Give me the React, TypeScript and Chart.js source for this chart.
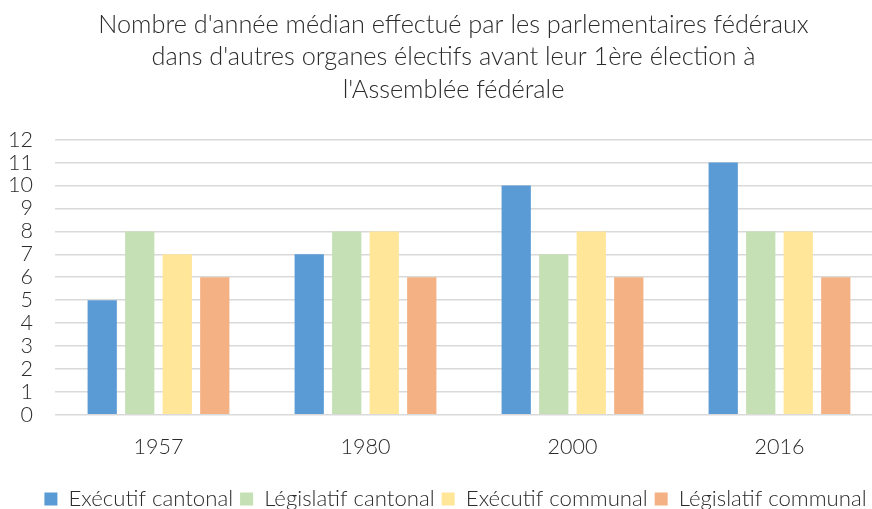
import React, { useEffect, useRef } from "react";
import { Chart, registerables } from "chart.js";

Chart.register(...registerables);

const categories = ["1957", "1980", "2000", "2016"];
const executifCantonal = [5, 7, 10, 11];
const legislatifCantonal = [8, 8, 7, 8];
const executifCommunal = [7, 8, 8, 8];
const legislatifCommunal = [6, 6, 6, 6];
const seriesNames = ["Exécutif cantonal", "Législatif cantonal", "Exécutif communal", "Législatif communal"];
const seriesColors = ["#5B9BD5", "#C5E0B4", "#FFE699", "#F4B183"];
const titleLines = [
  "Nombre d'année médian effectué par les parlementaires fédéraux",
  "dans d'autres organes électifs avant leur 1ère élection à",
  "l'Assemblée fédérale",
];
const yMin = 0;
const yMax = 12;
const yStep = 1;

const FONT = "Lato, 'Open Sans', sans-serif";
const TEXT = "#2B2B2B";
const GRID = "#D9D9D9";

const shiftBoxes = {
  id: "shiftBoxes",
  afterLayout(chart: any) {
    if (chart.titleBlock) chart.titleBlock.left += 24;
    if (chart.legend) chart.legend.left += 28;
  },
};

export default function App() {
  const ref = useRef<HTMLCanvasElement | null>(null);

  useEffect(() => {
    const canvas = ref.current;
    if (!canvas) return;
    const values = [executifCantonal, legislatifCantonal, executifCommunal, legislatifCommunal];
    const chart = new Chart(canvas, {
      type: "bar",
      data: {
        labels: categories,
        datasets: values.map((v, i) => ({
          label: seriesNames[i],
          data: v,
          backgroundColor: seriesColors[i],
          borderWidth: 0,
          categoryPercentage: 0.725,
          barPercentage: 0.78,
        })),
      },
      plugins: [shiftBoxes],
      options: {
        responsive: false,
        animation: false,
        devicePixelRatio: 1,
        layout: { padding: { left: 0, right: 23, top: 8, bottom: 0 } },
        plugins: {
          title: {
            display: true,
            text: titleLines,
            color: TEXT,
            font: { family: FONT, size: 25.3, weight: 300, lineHeight: 1.3 },
            padding: { top: 0, bottom: 33 },
          },
          legend: {
            position: "bottom",
            labels: {
              color: TEXT,
              font: { family: FONT, size: 22.2, weight: 300 },
              boxWidth: 13,
              boxHeight: 13,
              padding: 7,
            },
          },
          tooltip: { enabled: false },
        },
        scales: {
          x: {
            grid: { display: false, drawTicks: false },
            border: { display: false },
            ticks: { color: TEXT, font: { family: FONT, size: 21.5, weight: 300 }, padding: 19 },
            afterFit: (s: any) => {
              s.height = 66;
            },
          },
          y: {
            min: yMin,
            max: yMax,
            ticks: {
              stepSize: yStep,
              autoSkip: false,
              color: TEXT,
              font: { family: FONT, size: 21.5, weight: 300 },
              padding: 22,
            },
            grid: { color: GRID, lineWidth: 1.5, drawTicks: false },
            border: { display: false },
            afterFit: (s: any) => {
              s.width = 55;
            },
          },
        },
      },
    });
    return () => chart.destroy();
  }, []);

  return (
    <div style={{ position: "absolute", left: 0, top: 0, width: 872, height: 509, overflow: "hidden", background: "#fff" }}>
      <canvas ref={ref} width={906} height={520} style={{ display: "block" }} />
    </div>
  );
}
